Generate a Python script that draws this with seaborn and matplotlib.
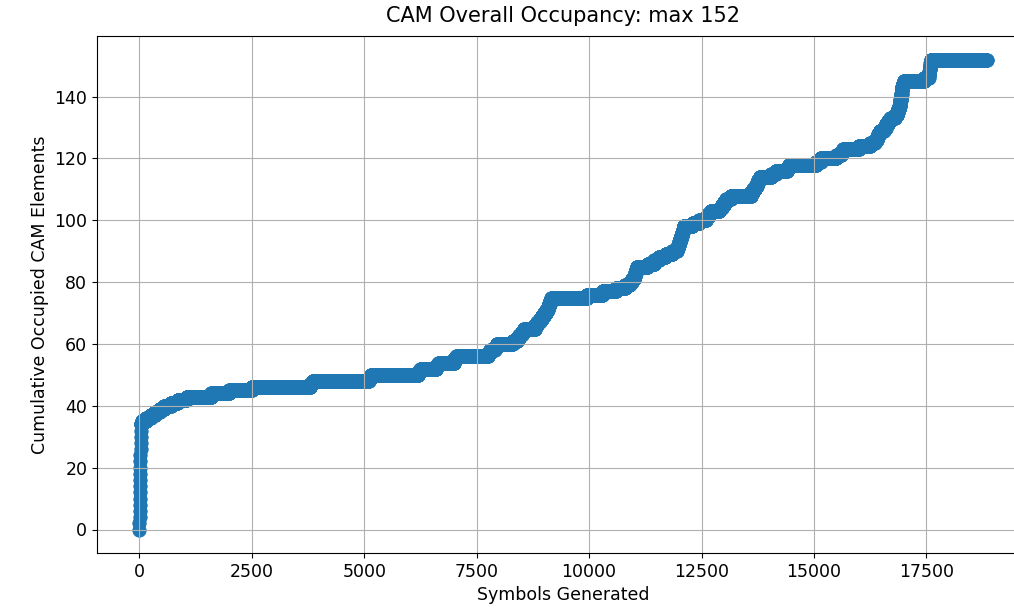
import matplotlib
matplotlib.use('Agg')
import matplotlib.pyplot as plt
import numpy as np
import pandas as pd
import seaborn as sns

# Occupancy levels: symbol index where each level is first reached
step_x = [0, 2, 4, 6, 8, 10, 12, 14, 16, 18, 20, 22, 24, 26, 28, 30, 32, 34,
          60, 150, 250, 350, 450, 550, 700, 850, 1050, 1600, 2000, 2500,
          3800, 3850, 5100, 5150, 6200, 6250, 6600, 6650, 7000, 7050,
          7750, 7800, 7900, 7950, 8300, 8400, 8450, 8500, 8550,
          8800, 8850, 8900, 8950, 9000, 9050, 9080, 9100, 9130, 9160,
          9950, 10300, 10600, 10800, 10900, 10950, 11000, 11020, 11040, 11060,
          11300, 11450, 11550, 11700, 11850, 11950, 11980, 12000, 12020, 12040,
          12060, 12080, 12100, 12300, 12450, 12600, 12650, 12700, 12900, 12950,
          13000, 13050, 13150, 13600, 13650, 13700, 13730, 13760, 13790,
          14050, 14150, 14400, 14450, 15050, 15150, 15500, 15600, 15650,
          16000, 16250, 16350, 16400, 16430, 16460, 16550, 16600, 16650, 16700,
          16800, 16850, 16870, 16900, 16910, 16920, 16930, 16940, 16950, 16960,
          16970, 17000, 17450, 17550, 17560, 17570, 17580, 17590, 17600]
step_y = [0, 2, 4, 6, 8, 10, 12, 14, 16, 18, 20, 22, 24, 26, 28, 30, 32, 34,
          35, 36, 37, 38, 39, 40, 41, 42, 43, 44, 45, 46,
          47, 48, 49, 50, 51, 52, 53, 54, 55, 56,
          57, 58, 59, 60, 61, 62, 63, 64, 65,
          66, 67, 68, 69, 70, 71, 72, 73, 74, 75,
          76, 77, 78, 79, 80, 81, 82, 83, 84, 85,
          86, 87, 88, 89, 90, 91, 92, 93, 94, 95,
          96, 97, 98, 99, 100, 101, 102, 103, 104, 105,
          106, 107, 108, 109, 110, 111, 112, 113, 114,
          115, 116, 117, 118, 119, 120, 121, 122, 123,
          124, 125, 126, 127, 128, 129, 130, 131, 132, 133,
          134, 135, 136, 137, 138, 139, 140, 141, 142, 143,
          144, 145, 146, 147, 148, 149, 150, 151, 152]
last_symbol = 18840

# One sample per symbol generated, holding the current occupancy level
symbols = np.arange(last_symbol + 1)
occ = np.array(step_y)[np.searchsorted(step_x, symbols, side='right') - 1]
df = pd.DataFrame({'symbol': symbols, 'occupancy': occ})

fig = plt.figure(figsize=(10.14, 6.10), dpi=100)
ax = fig.add_axes([97 / 1014, 57 / 610, 932 / 1014, 517 / 610])

sns.scatterplot(data=df, x='symbol', y='occupancy', ax=ax, color='#1f77b4',
                s=100, linewidth=0, legend=False)

ax.grid(True)
ax.set_title('CAM Overall Occupancy: max 152', fontsize=15, pad=10)
ax.set_xlabel('Symbols Generated', fontsize=12.5)
ax.set_ylabel('Cumulative Occupied CAM Elements', fontsize=12.5)
ax.tick_params(labelsize=12.5)

fig.savefig('out.png', dpi=100)
